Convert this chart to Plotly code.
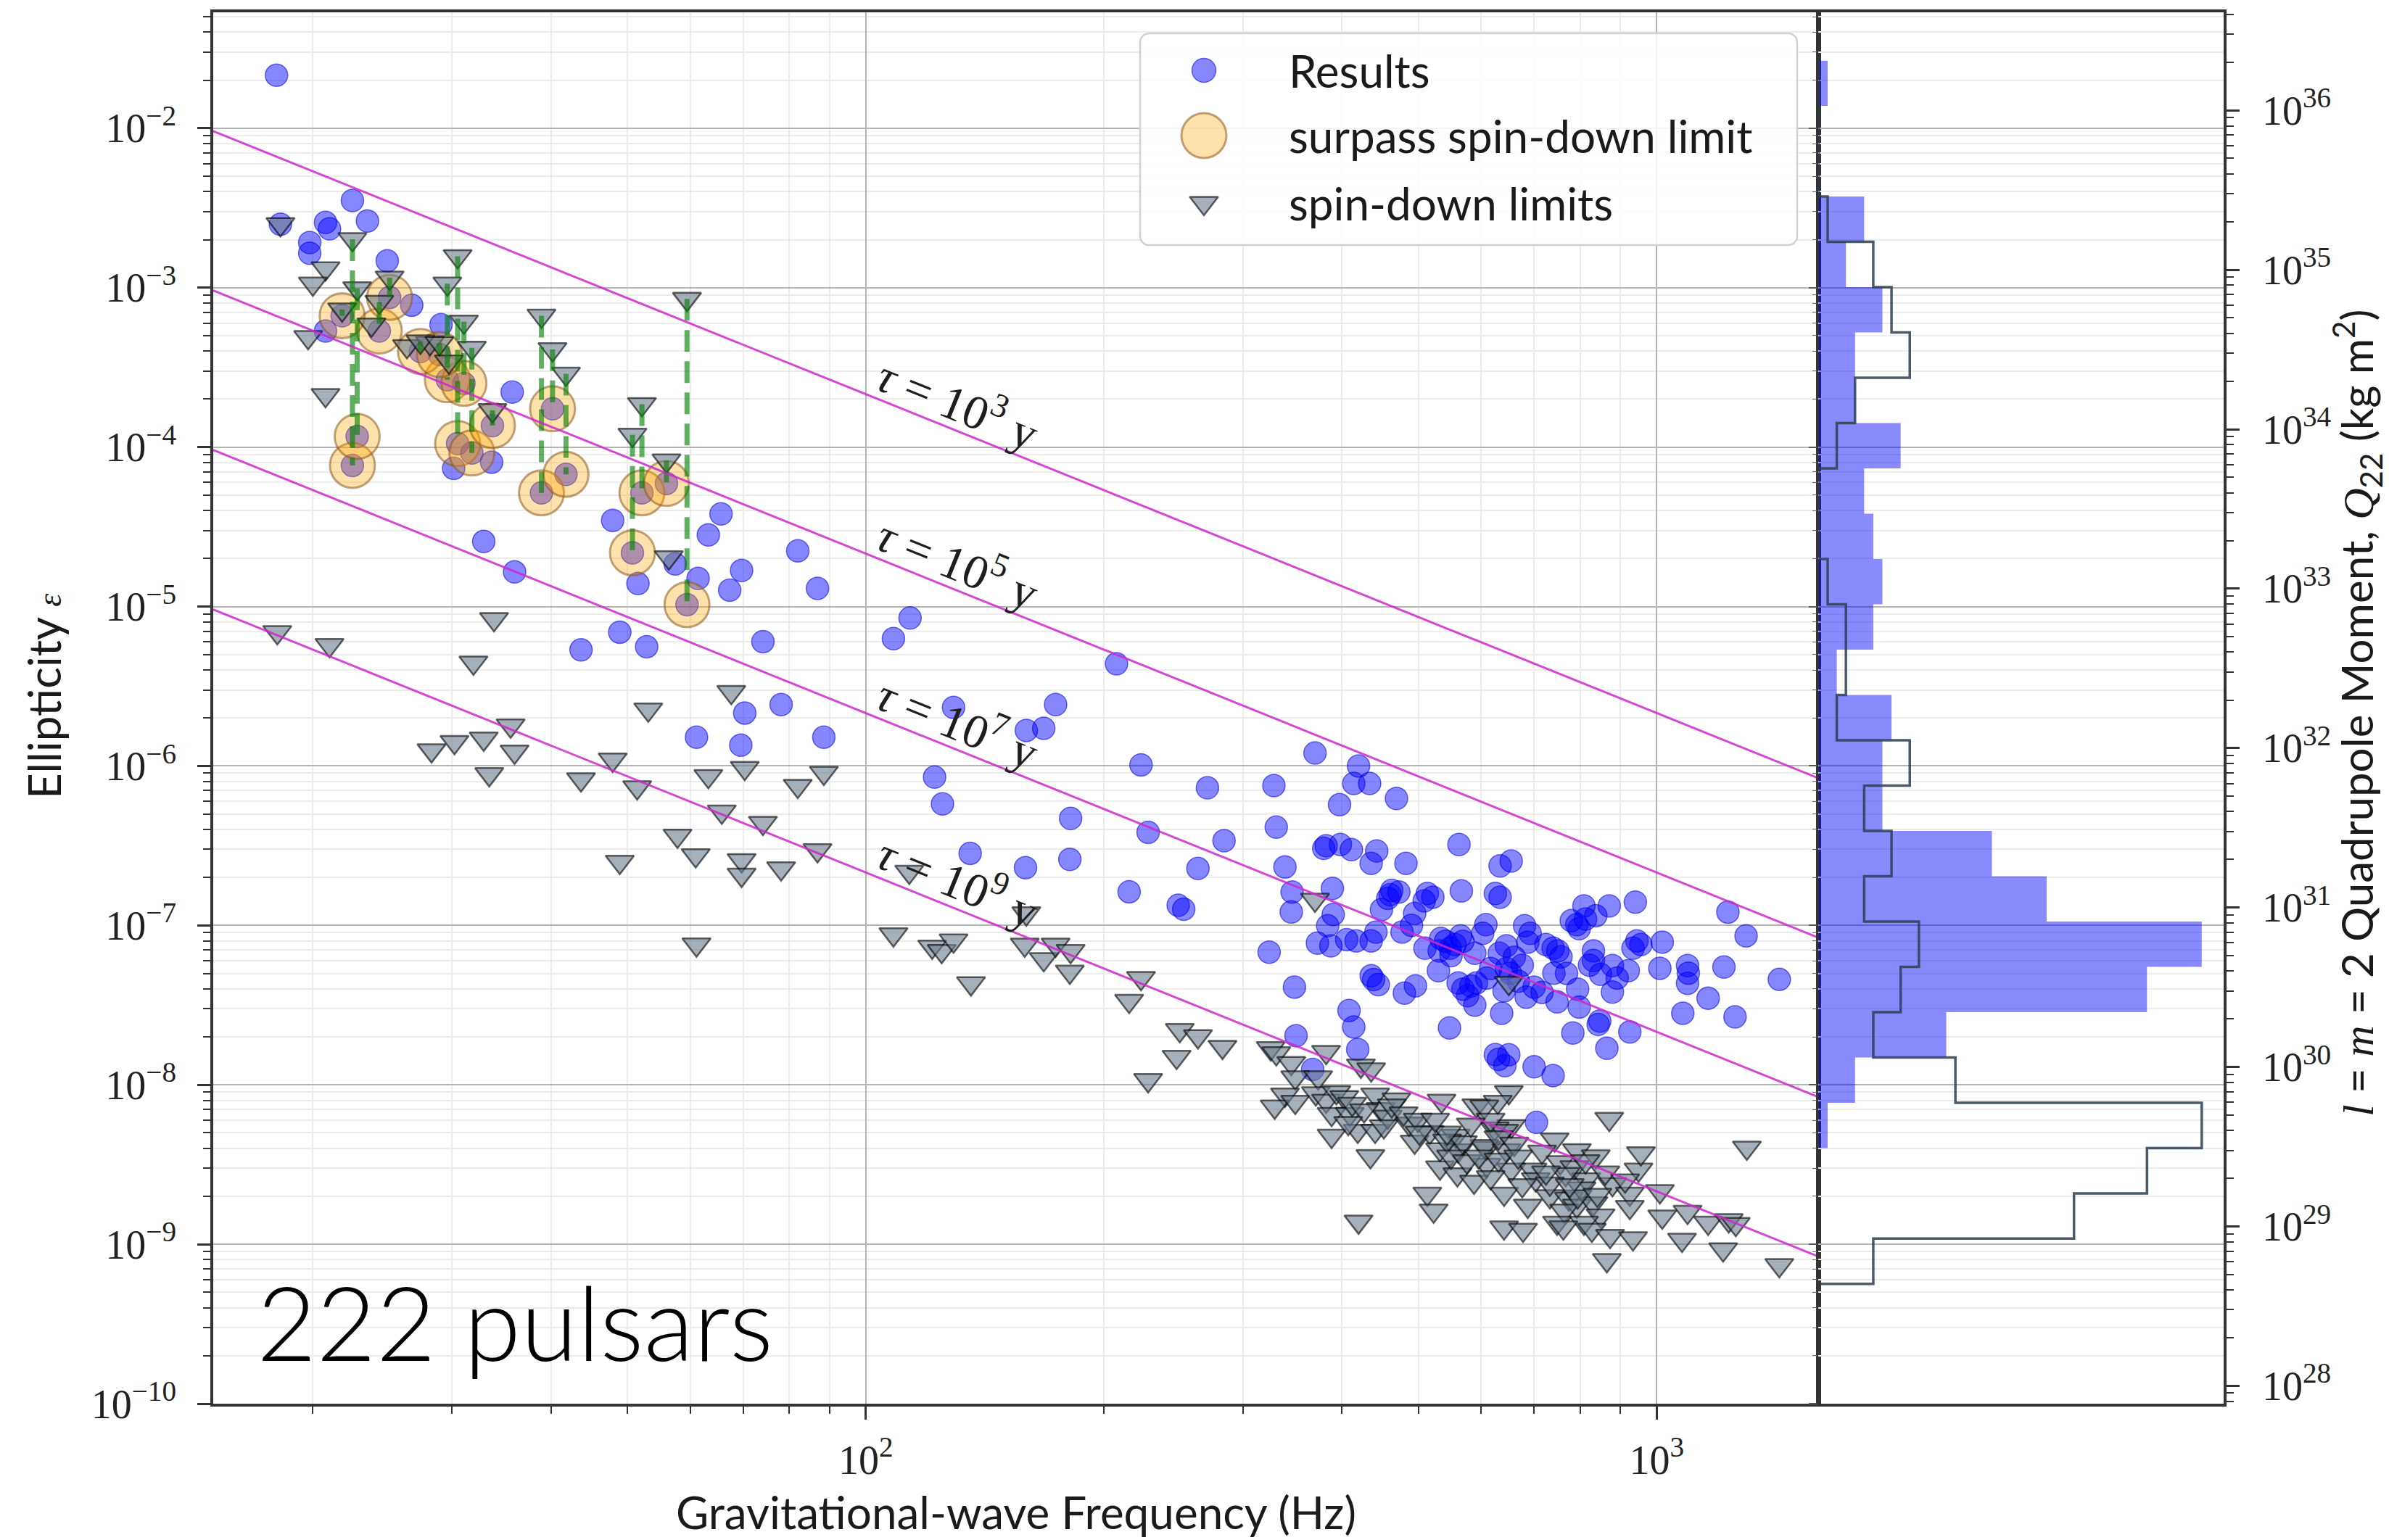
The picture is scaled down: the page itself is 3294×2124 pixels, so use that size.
import numpy as np
import plotly.graph_objects as go

# ---------------------------------------------------------------------------
# Data: (log10 frequency [Hz], log10 ellipticity)
# ---------------------------------------------------------------------------
res_log_f = [
    1.255, 1.351, 1.370, 1.317, 1.322, 1.297, 1.297, 1.260, 1.395, 1.426, 1.317, 1.463, 1.553, 1.527, 1.479,
    1.517, 1.556, 1.680, 1.712, 1.759, 1.788, 1.817, 1.801, 1.843, 1.828, 1.914, 1.939, 1.640, 1.689, 1.723,
    1.870, 1.847, 1.893, 1.786, 1.842, 1.947,
    2.056, 2.035, 2.317, 2.111, 2.203, 2.225, 2.240, 2.087, 2.097, 2.259, 2.132, 2.202, 2.258, 2.348, 2.432,
    2.357, 2.453, 2.420, 2.333, 2.395, 2.402,
    2.568, 2.623, 2.617, 2.637, 2.599, 2.671, 2.516, 2.519, 2.530, 2.539, 2.538, 2.579, 2.600, 2.614, 2.646,
    2.639, 2.683, 2.750, 2.590, 2.591, 2.584, 2.571, 2.588, 2.608, 2.620, 2.639, 2.645, 2.652, 2.663, 2.674,
    2.694, 2.717, 2.706, 2.678, 2.753, 2.796, 2.802, 2.784, 2.802, 2.816, 2.510, 2.542, 2.639, 2.648, 2.681,
    2.695, 2.707, 2.727, 2.724, 2.739, 2.752, 2.749, 2.761, 2.772, 2.770, 2.801, 2.807, 2.804, 2.738, 2.611,
    2.617, 2.622, 2.544, 2.565, 2.796, 2.808,
    2.908, 2.940, 2.923, 2.899, 2.973, 3.090, 3.113, 2.833, 2.837, 2.810, 2.869, 2.879, 2.886, 2.920, 2.929,
    2.944, 2.964, 2.975, 2.970, 3.007, 3.004, 3.039, 3.039, 3.085, 3.065, 3.155, 2.944, 2.845, 2.874, 2.902,
    2.926, 2.894, 2.937, 2.966, 3.033, 3.099, 2.845, 2.869, 2.813, 2.848,
    2.582, 2.660, 2.665, 2.710, 2.733, 2.745, 2.725, 2.740, 2.755, 2.755, 2.765, 2.642, 2.800, 2.892, 2.902,
    2.910, 2.875, 2.860, 2.920, 2.915, 2.980, 2.928, 2.820, 2.830, 2.840, 2.810, 2.815, 3.040, 2.855, 2.780,
    2.790, 2.785, 2.825, 2.835, 2.950, 2.900, 2.870, 2.770, 2.690,
]
res_log_eps = [
    -1.668, -2.453, -2.582, -2.591, -2.631, -2.717, -2.784, -2.602, -2.832, -3.110, -3.272, -3.232, -3.655, -4.095, -4.133,
    -4.592, -4.783, -4.460, -4.856, -4.733, -4.824, -4.419, -4.551, -4.774, -4.897, -4.651, -4.886, -5.272, -5.161, -5.252,
    -5.220, -5.668, -5.615, -5.820, -5.870, -5.820,
    -5.072, -5.201, -5.359, -5.633, -5.777, -5.764, -5.615, -6.070, -6.238, -6.329, -6.548, -6.638, -6.586, -5.993, -6.137,
    -6.416, -6.469, -6.643, -6.789, -6.874, -6.898,
    -5.919, -6.000, -6.110, -6.110, -6.243, -6.204, -6.123, -6.384, -6.634, -6.791, -6.916, -6.517, -6.493, -6.525, -6.533,
    -6.611, -6.611, -6.493, -6.768, -6.932, -7.002, -7.111, -7.128, -7.089, -7.097, -7.097, -7.042, -6.901, -6.807, -6.791,
    -6.925, -6.823, -6.846, -7.042, -6.784, -6.800, -6.823, -6.995, -6.627, -6.596, -7.168, -7.387, -7.316, -7.371, -7.425,
    -7.379, -7.143, -7.081, -7.284, -7.143, -7.066, -7.361, -7.441, -7.361, -7.175, -7.175, -7.410, -7.551, -7.643, -7.534,
    -7.637, -7.778, -7.692, -7.903, -7.810, -7.880,
    -6.878, -6.878, -6.939, -6.995, -6.854, -6.917, -7.066, -7.002, -7.105, -7.128, -7.143, -7.198, -7.301, -7.160, -7.307,
    -7.252, -7.284, -7.097, -7.143, -7.105, -7.269, -7.252, -7.363, -7.261, -7.457, -7.339, -7.418, -7.387, -7.480, -7.512,
    -7.621, -7.675, -7.771, -7.668, -7.551, -7.574, -7.887, -7.942, -7.811, -8.236,
    -6.500, -6.830, -6.780, -6.800, -7.100, -7.120, -7.160, -7.190, -7.100, -7.400, -7.380, -7.340, -7.840, -6.970, -7.020,
    -6.960, -7.160, -7.120, -7.220, -7.250, -7.120, -7.600, -7.200, -7.250, -7.050, -7.270, -7.300, -7.300, -7.420, -7.050,
    -7.270, -7.330, -7.350, -7.450, -7.330, -7.400, -7.300, -7.500, -7.000,
]

sd_log_f = [
    1.260, 1.317, 1.301, 1.295, 1.317, 1.375, 1.420, 1.449, 1.473,
    1.751, 1.256, 1.322, 1.530, 1.504, 1.830, 1.725, 1.451, 1.480, 1.517, 1.551, 1.556, 1.524, 1.680, 1.640,
    1.711, 1.801, 1.847, 1.947, 1.914, 1.818, 1.870, 1.762, 1.785, 1.843, 1.843, 1.893, 1.939, 1.689, 1.786,
    2.055, 2.035, 2.084, 2.096, 2.111, 2.133, 2.203, 2.201, 2.225, 2.240, 2.259, 2.258, 2.348, 2.333, 2.397,
    2.420, 2.393, 2.451, 2.357,
    2.568, 2.813, 2.512, 2.519, 2.538, 2.582, 2.626, 2.639,
    2.543, 2.572, 2.530, 2.517, 2.543, 2.569, 2.582, 2.595, 2.605, 2.589, 2.612, 2.644, 2.651, 2.671, 2.589,
    2.622, 2.644, 2.638, 2.687, 2.694, 2.713, 2.728, 2.726, 2.726, 2.746, 2.749, 2.748, 2.769, 2.772, 2.785,
    2.710, 2.718, 2.623,
    2.813, 2.799, 2.782, 2.816, 2.795, 2.807, 2.782, 2.810, 2.785, 2.816, 2.843, 2.847, 2.871, 2.899, 2.923,
    2.878, 2.896, 2.911, 2.940, 2.977, 2.944, 2.966, 3.004, 2.807, 2.837, 2.865, 2.889, 2.899, 2.883, 2.920,
    2.929, 2.874, 2.908, 2.918, 2.807, 2.831, 2.882, 2.941, 2.970, 2.966, 3.007, 3.039, 3.065, 3.091, 3.100,
    3.032, 3.084, 2.937, 3.155, 3.114,
    2.615, 2.630, 2.660, 2.665, 2.680, 2.698, 2.655, 2.700, 2.610, 2.735, 2.755, 2.740, 2.760, 2.735, 2.790,
    2.800, 2.820, 2.775, 2.800, 2.825, 2.765, 2.885, 2.905, 2.900, 2.925, 2.865, 2.855, 2.910, 2.890, 2.935,
    2.720, 2.790, 2.830, 2.860, 2.960, 2.980,
]
sd_log_eps = [
    -2.602, -2.879, -2.975, -3.310, -3.674, -3.232, -3.367, -3.348, -3.464,
    -4.692, -5.161, -5.242, -5.079, -5.352, -5.536, -5.647, -5.902, -5.850, -5.829, -5.747, -5.911, -6.052, -5.961, -6.084,
    -6.134, -6.064, -6.013, -6.043, -6.125, -6.287, -6.357, -6.438, -6.561, -6.592, -6.683, -6.643, -6.529, -6.602, -7.120,
    -6.664, -7.057, -7.134, -7.161, -7.095, -7.364, -6.925, -7.121, -7.212, -7.121, -7.161, -7.291, -7.330, -7.474, -7.657,
    -7.696, -7.825, -7.762, -7.971,
    -6.839, -7.361, -7.771, -7.802, -7.864, -7.794, -7.880, -7.903,
    -7.954, -7.954, -8.062, -8.137, -8.107, -8.054, -8.100, -8.047, -8.077, -8.183, -8.183, -8.062, -8.153, -8.092, -8.320,
    -8.289, -8.289, -8.448, -8.244, -8.357, -8.297, -8.100, -8.405, -8.519, -8.320, -8.411, -8.562, -8.608, -8.130, -8.396,
    -8.683, -8.789, -8.858,
    -8.047, -8.107, -8.137, -8.259, -8.274, -8.289, -8.385, -8.411, -8.502, -8.532, -8.532, -8.593, -8.343, -8.411, -8.449,
    -8.486, -8.517, -8.593, -8.214, -8.532, -8.623, -8.683, -8.668, -8.683, -8.759, -8.699, -8.714, -8.759, -8.789, -8.744,
    -8.820, -8.865, -8.865, -8.910, -8.895, -8.910, -8.895, -8.948, -8.963, -8.766, -8.827, -8.797, -8.865, -8.850, -8.873,
    -8.972, -9.032, -9.100, -9.131, -8.395,
    -8.120, -8.160, -8.200, -8.130, -8.180, -8.220, -8.260, -8.300, -8.240, -8.350, -8.360, -8.450, -8.480, -8.300, -8.220,
    -8.330, -8.370, -8.450, -8.470, -8.450, -8.250, -8.560, -8.650, -8.700, -8.690, -8.620, -8.420, -8.480, -8.630, -8.550,
    -8.220, -8.580, -8.630, -8.550, -8.600, -8.430,
]

# Pulsars whose upper limit beats the spin-down limit
beat_log_f = [1.351, 1.357, 1.385, 1.398, 1.338, 1.471, 1.484, 1.492, 1.502, 1.528,
              1.590, 1.604, 1.621, 1.705, 1.717, 1.748, 1.774, 1.437, 1.461]
beat_log_sd = [-2.696, -3.004, -3.090, -2.937, -3.137, -2.975, -2.803, -3.214, -3.378, -3.769,
               -3.176, -3.387, -3.540, -3.923, -3.731, -4.085, -3.071, -3.338, -3.348]
beat_log_res = [-4.115, -3.933, -3.272, -3.061, -3.176, -3.578, -3.978, -3.600, -4.037, -3.865,
                -4.287, -3.760, -4.171, -4.663, -4.287, -4.228, -4.988, -3.400, -3.420]

# Characteristic spin-down ages of the reference lines
tau_years = [1e3, 1e5, 1e7, 1e9]
tau_exponents = ["3", "5", "7", "9"]

# Histogram counts per log-ellipticity bin, lowest bin first
hist_log_eps_span = (-9.249, -1.576)
hist_results = [0, 0, 0, 1, 4, 14, 36, 42, 25, 19, 7, 7, 8, 2, 6, 7, 6, 5, 9, 4, 4, 7, 3, 5, 0, 0, 1]
hist_spindown = [6, 28, 36, 42, 15, 6, 9, 11, 5, 8, 5, 10, 2, 3, 3, 1, 0, 0, 2, 4, 10, 8, 6, 1, 0, 0, 0]

# Tick values
freq_ticks = [1e2, 1e3]
freq_tick_text = ["10<sup>2</sup>", "10<sup>3</sup>"]
eps_exponents = list(range(-10, -1))
q_exponents = list(range(28, 37))

# ---------------------------------------------------------------------------
# Physics helpers
# ---------------------------------------------------------------------------
C_LIGHT = 2.998e8
G_NEWTON = 6.674e-11
I_ZZ = 1e38
YEAR = 3.156e7
Q_FACTOR = I_ZZ * np.sqrt(15.0 / (8.0 * np.pi))   # Q22 = eps * I * sqrt(15/8pi)


def eps_for_age(f, tau_yr):
    """Ellipticity of a pure-GW spin-down with characteristic age tau."""
    return np.sqrt(5 * C_LIGHT**5 / (128 * G_NEWTON * I_ZZ * tau_yr * YEAR)) / (np.pi**2 * f**2)


X_RANGE = [1.175, 3.2046]
Y_RANGE = [-10.0, -1.273]
Q_OFF = np.log10(Q_FACTOR)

res_f = 10 ** np.array(res_log_f)
res_eps = 10 ** np.array(res_log_eps)
sd_f = 10 ** np.array(sd_log_f)
sd_eps = 10 ** np.array(sd_log_eps)
beat_f = 10 ** np.array(beat_log_f)
beat_sd = 10 ** np.array(beat_log_sd)
beat_res = 10 ** np.array(beat_log_res)

all_res_f = np.concatenate([res_f, beat_f])
all_res_eps = np.concatenate([res_eps, beat_res])
all_sd_f = np.concatenate([sd_f, beat_f])
all_sd_eps = np.concatenate([sd_eps, beat_sd])

BLUE_FILL = "rgba(0,0,255,0.47)"
BLUE_EDGE = "rgba(0,0,220,0.55)"
ORANGE_FILL = "rgba(255,165,0,0.33)"
ORANGE_EDGE = "rgba(140,90,30,0.55)"
TRI_FILL = "rgba(112,128,144,0.62)"
TRI_EDGE = "rgba(0,0,0,0.6)"
SERIF = "Liberation Serif"
SANS = "Lato"
TRI_SIZE = 34

fig = go.Figure()

# Measured ellipticities
fig.add_trace(go.Scatter(
    x=all_res_f, y=all_res_eps, mode="markers", xaxis="x", yaxis="y",
    marker=dict(size=31, color=BLUE_FILL, line=dict(color=BLUE_EDGE, width=1.5)),
))
# Results that beat the spin-down limit
fig.add_trace(go.Scatter(
    x=beat_f, y=beat_res, mode="markers", xaxis="x", yaxis="y",
    marker=dict(size=62, color=ORANGE_FILL, line=dict(color=ORANGE_EDGE, width=3)),
))
# Spin-down limits
fig.add_trace(go.Scatter(
    x=all_sd_f, y=all_sd_eps, mode="markers", xaxis="x", yaxis="y",
    marker=dict(size=TRI_SIZE, symbol="triangle-down", color=TRI_FILL, line=dict(color=TRI_EDGE, width=2.5)),
))
# Connectors from spin-down limit to measured result
lx, ly = [], []
for f, a, b in zip(beat_f, beat_sd, beat_res):
    lx += [f, f, None]
    ly += [a, b, None]
fig.add_trace(go.Scatter(
    x=lx, y=ly, mode="lines", xaxis="x", yaxis="y",
    line=dict(color="rgba(0,128,0,0.62)", width=7, dash="30px,13px"),
))

# Constant characteristic-age lines
f_edges = 10 ** np.array(X_RANGE)
for tau in tau_years:
    fig.add_trace(go.Scatter(
        x=f_edges, y=eps_for_age(f_edges, tau), mode="lines", xaxis="x", yaxis="y",
        line=dict(color="rgba(205,40,205,0.85)", width=3),
    ))

f_label = 131.0
for tau, ex in zip(tau_years, tau_exponents):
    fig.add_annotation(
        x=np.log10(f_label), y=np.log10(eps_for_age(f_label, tau)), xref="x", yref="y",
        text=f"<i>τ</i> = 10<sup>{ex}</sup> y", showarrow=False, textangle=22, yshift=42,
        font=dict(family=SERIF, size=66, color="#1e1e1e"),
    )

# Histograms of log ellipticity (side panel)
edges = np.linspace(hist_log_eps_span[0], hist_log_eps_span[1], len(hist_results) + 1)


def step_outline(counts):
    xs, ys = [0.0], [edges[0]]
    for c, a, b in zip(counts, edges[:-1], edges[1:]):
        xs += [c, c]
        ys += [a, b]
    xs.append(0.0)
    ys.append(edges[-1])
    return xs, 10 ** np.array(ys)


hx, hy = step_outline(hist_results)
fig.add_trace(go.Scatter(
    x=hx, y=hy, mode="lines", fill="toself", fillcolor="rgba(0,0,255,0.46)",
    line=dict(width=0, color="rgba(0,0,0,0)"), xaxis="x2", yaxis="y2",
))
sx, sy = step_outline(hist_spindown)
fig.add_trace(go.Scatter(
    x=sx, y=sy, mode="lines", line=dict(color="rgba(45,62,82,0.85)", width=3.5),
    xaxis="x2", yaxis="y2",
))
# anchor for the quadrupole-moment axis
fig.add_trace(go.Scatter(x=[1], y=[1e30], mode="markers", marker=dict(opacity=0),
                         xaxis="x2", yaxis="y3"))

# ---------------------------------------------------------------------------
# Legend drawn on a full-size overlay
# ---------------------------------------------------------------------------
W, H = 3294, 2124
ML, MR, MT, MB = 294, 228, 17, 188
PW, PH = W - ML - MR, H - MT - MB


def px(xp):
    return (xp - ML) / PW


def py(yp):
    return (H - MB - yp) / PH


bx0, bx1, by0, by1 = px(1572), px(2478), py(338), py(46)
rx, ry = 12 / PW, 12 / PH
ang = np.linspace(0, np.pi / 2, 8)
box_x, box_y = [], []
for cx, cy, a0 in [(bx1 - rx, by1 - ry, 0), (bx0 + rx, by1 - ry, np.pi / 2),
                   (bx0 + rx, by0 + ry, np.pi), (bx1 - rx, by0 + ry, 1.5 * np.pi)]:
    box_x += list(cx + rx * np.cos(a0 + ang))
    box_y += list(cy + ry * np.sin(a0 + ang))
box_x.append(box_x[0])
box_y.append(box_y[0])
fig.add_trace(go.Scatter(
    x=box_x, y=box_y, mode="lines", fill="toself", fillcolor="rgba(255,255,255,0.85)",
    line=dict(color="#d2d2d2", width=2.5), xaxis="x3", yaxis="y4",
))
leg_rows = [py(97), py(187), py(280)]
leg_x = px(1660)
fig.add_trace(go.Scatter(x=[leg_x], y=[leg_rows[0]], mode="markers", xaxis="x3", yaxis="y4",
                         marker=dict(size=33, color=BLUE_FILL, line=dict(color=BLUE_EDGE, width=1.5))))
fig.add_trace(go.Scatter(x=[leg_x], y=[leg_rows[1]], mode="markers", xaxis="x3", yaxis="y4",
                         marker=dict(size=62, color=ORANGE_FILL, line=dict(color=ORANGE_EDGE, width=3))))
fig.add_trace(go.Scatter(x=[leg_x], y=[leg_rows[2]], mode="markers", xaxis="x3", yaxis="y4",
                         marker=dict(size=TRI_SIZE, symbol="triangle-down", color=TRI_FILL,
                                     line=dict(color=TRI_EDGE, width=2.5))))
for label, yy in zip(["Results", "surpass spin-down limit", "spin-down limits"], leg_rows):
    fig.add_annotation(x=px(1775), y=yy, xref="paper", yref="paper", text=label, showarrow=False,
                       xanchor="left", yanchor="middle", font=dict(family=SANS, size=62, color="#1a1a1a"))

# Titles and caption
fig.add_annotation(x=0.3992, y=py(2085), xref="paper", yref="paper", showarrow=False,
                   text="Gravitational-wave Frequency (Hz)", xanchor="center", yanchor="middle",
                   font=dict(family=SANS, size=62, color="#1a1a1a"))
fig.add_annotation(x=px(60), y=py(960), xref="paper", yref="paper", showarrow=False, textangle=-90,
                   text="Ellipticity <span style='font-family:Liberation Serif;font-style:italic;font-size:46px'>ε</span>",
                   xanchor="center", yanchor="middle", font=dict(family=SANS, size=62, color="#1a1a1a"))
fig.add_annotation(x=px(3250), y=py(984), xref="paper", yref="paper", showarrow=False, textangle=-90,
                   text="<span style='font-family:Liberation Serif;font-style:italic'>l</span> = "
                        "<span style='font-family:Liberation Serif;font-style:italic'>m</span> = 2 "
                        "Quadrupole Moment, <span style='font-family:Liberation Serif;font-style:italic'>Q</span>"
                        "<sub>22</sub> (kg m<sup>2</sup>)",
                   xanchor="center", yanchor="middle", font=dict(family=SANS, size=60, color="#1a1a1a"))
fig.add_annotation(x=px(352), y=py(1822), xref="paper", yref="paper", showarrow=False,
                   text="222 pulsars", xanchor="left", yanchor="middle",
                   font=dict(family=SANS, size=142, color="#000000", weight=300))

# ---------------------------------------------------------------------------
# Axes
# ---------------------------------------------------------------------------
AX_LINE = "#333333"
GRID_MAJ = "#b4b4b4"
GRID_MIN = "#ececec"
tick_font = dict(family=SERIF, size=56, color="#222222")


def minor_vals(lo_exp, hi_exp, lo, hi):
    return [k * 10.0**d for d in range(lo_exp, hi_exp + 1) for k in range(2, 10) if lo <= k * 10.0**d <= hi]


x_minor = minor_vals(1, 3, 10**X_RANGE[0], 10**X_RANGE[1])
y_minor = minor_vals(-11, -2, 10**Y_RANGE[0], 10**Y_RANGE[1])
q_lo, q_hi = Y_RANGE[0] + Q_OFF, Y_RANGE[1] + Q_OFF
q_minor = minor_vals(27, 36, 10**q_lo, 10**q_hi)
eps_tickvals = [10.0**e for e in eps_exponents]
eps_ticktext = [f"10<sup>−{-e}</sup>" for e in eps_exponents]
q_tickvals = [10.0**e for e in q_exponents]
q_ticktext = [f"10<sup>{e}</sup>" for e in q_exponents]

main_split = 0.7985

fig.update_layout(
    width=W, height=H, margin=dict(l=ML, r=MR, t=MT, b=MB, pad=0),
    paper_bgcolor="white", plot_bgcolor="rgba(0,0,0,0)", showlegend=False, hovermode=False,
    xaxis=dict(
        type="log", range=X_RANGE, domain=[0, main_split], anchor="y",
        showline=True, linecolor=AX_LINE, linewidth=3.5, mirror=True,
        ticks="outside", ticklen=18, tickwidth=2.5, tickcolor=AX_LINE,
        tickmode="array", tickvals=freq_ticks, ticktext=freq_tick_text, tickfont=tick_font,
        ticklabelstandoff=8,
        showgrid=True, gridcolor=GRID_MAJ, gridwidth=2, zeroline=False,
        minor=dict(tickmode="array", tickvals=x_minor, ticks="outside", ticklen=10, tickwidth=2,
                   tickcolor=AX_LINE, showgrid=True, gridcolor=GRID_MIN, gridwidth=2),
    ),
    yaxis=dict(
        type="log", range=Y_RANGE, domain=[0, 1], anchor="x",
        showline=True, linecolor=AX_LINE, linewidth=3.5, mirror=True,
        ticks="outside", ticklen=18, tickwidth=2.5, tickcolor=AX_LINE,
        tickmode="array", tickvals=eps_tickvals, ticktext=eps_ticktext, tickfont=tick_font,
        ticklabelstandoff=18,
        showgrid=True, gridcolor=GRID_MAJ, gridwidth=2, zeroline=False,
        minor=dict(tickmode="array", tickvals=y_minor, ticks="outside", ticklen=10, tickwidth=2,
                   tickcolor=AX_LINE, showgrid=True, gridcolor=GRID_MIN, gridwidth=2),
    ),
    xaxis2=dict(
        range=[0, 44.4], domain=[main_split, 1], anchor="y2",
        showline=True, linecolor=AX_LINE, linewidth=3.5, mirror=True,
        ticks="", showticklabels=False, showgrid=False, zeroline=False,
    ),
    yaxis2=dict(
        type="log", range=Y_RANGE, domain=[0, 1], anchor="x2",
        showline=True, linecolor=AX_LINE, linewidth=2.5,
        ticks="outside", ticklen=11, tickwidth=2, tickcolor="#555555",
        tickmode="array", tickvals=eps_tickvals, showticklabels=False,
        showgrid=True, gridcolor=GRID_MAJ, gridwidth=2, zeroline=False,
        minor=dict(tickmode="array", tickvals=y_minor, ticks="outside", ticklen=6, tickwidth=1.2,
                   tickcolor="#666666", showgrid=True, gridcolor=GRID_MIN, gridwidth=2),
    ),
    yaxis3=dict(
        type="log", range=[q_lo, q_hi], overlaying="y2", anchor="x2", side="right",
        showline=True, linecolor=AX_LINE, linewidth=3.5,
        ticks="outside", ticklen=18, tickwidth=2.5, tickcolor=AX_LINE,
        tickmode="array", tickvals=q_tickvals, ticktext=q_ticktext, tickfont=tick_font,
        ticklabelstandoff=20, showgrid=False, zeroline=False,
        minor=dict(tickmode="array", tickvals=q_minor, ticks="outside", ticklen=10, tickwidth=2,
                   tickcolor=AX_LINE, showgrid=False),
    ),
    xaxis3=dict(domain=[0, 1], range=[0, 1], anchor="y4", visible=False, fixedrange=True),
    yaxis4=dict(domain=[0, 1], range=[0, 1], anchor="x3", visible=False, fixedrange=True),
)

fig.write_html("out.html")
